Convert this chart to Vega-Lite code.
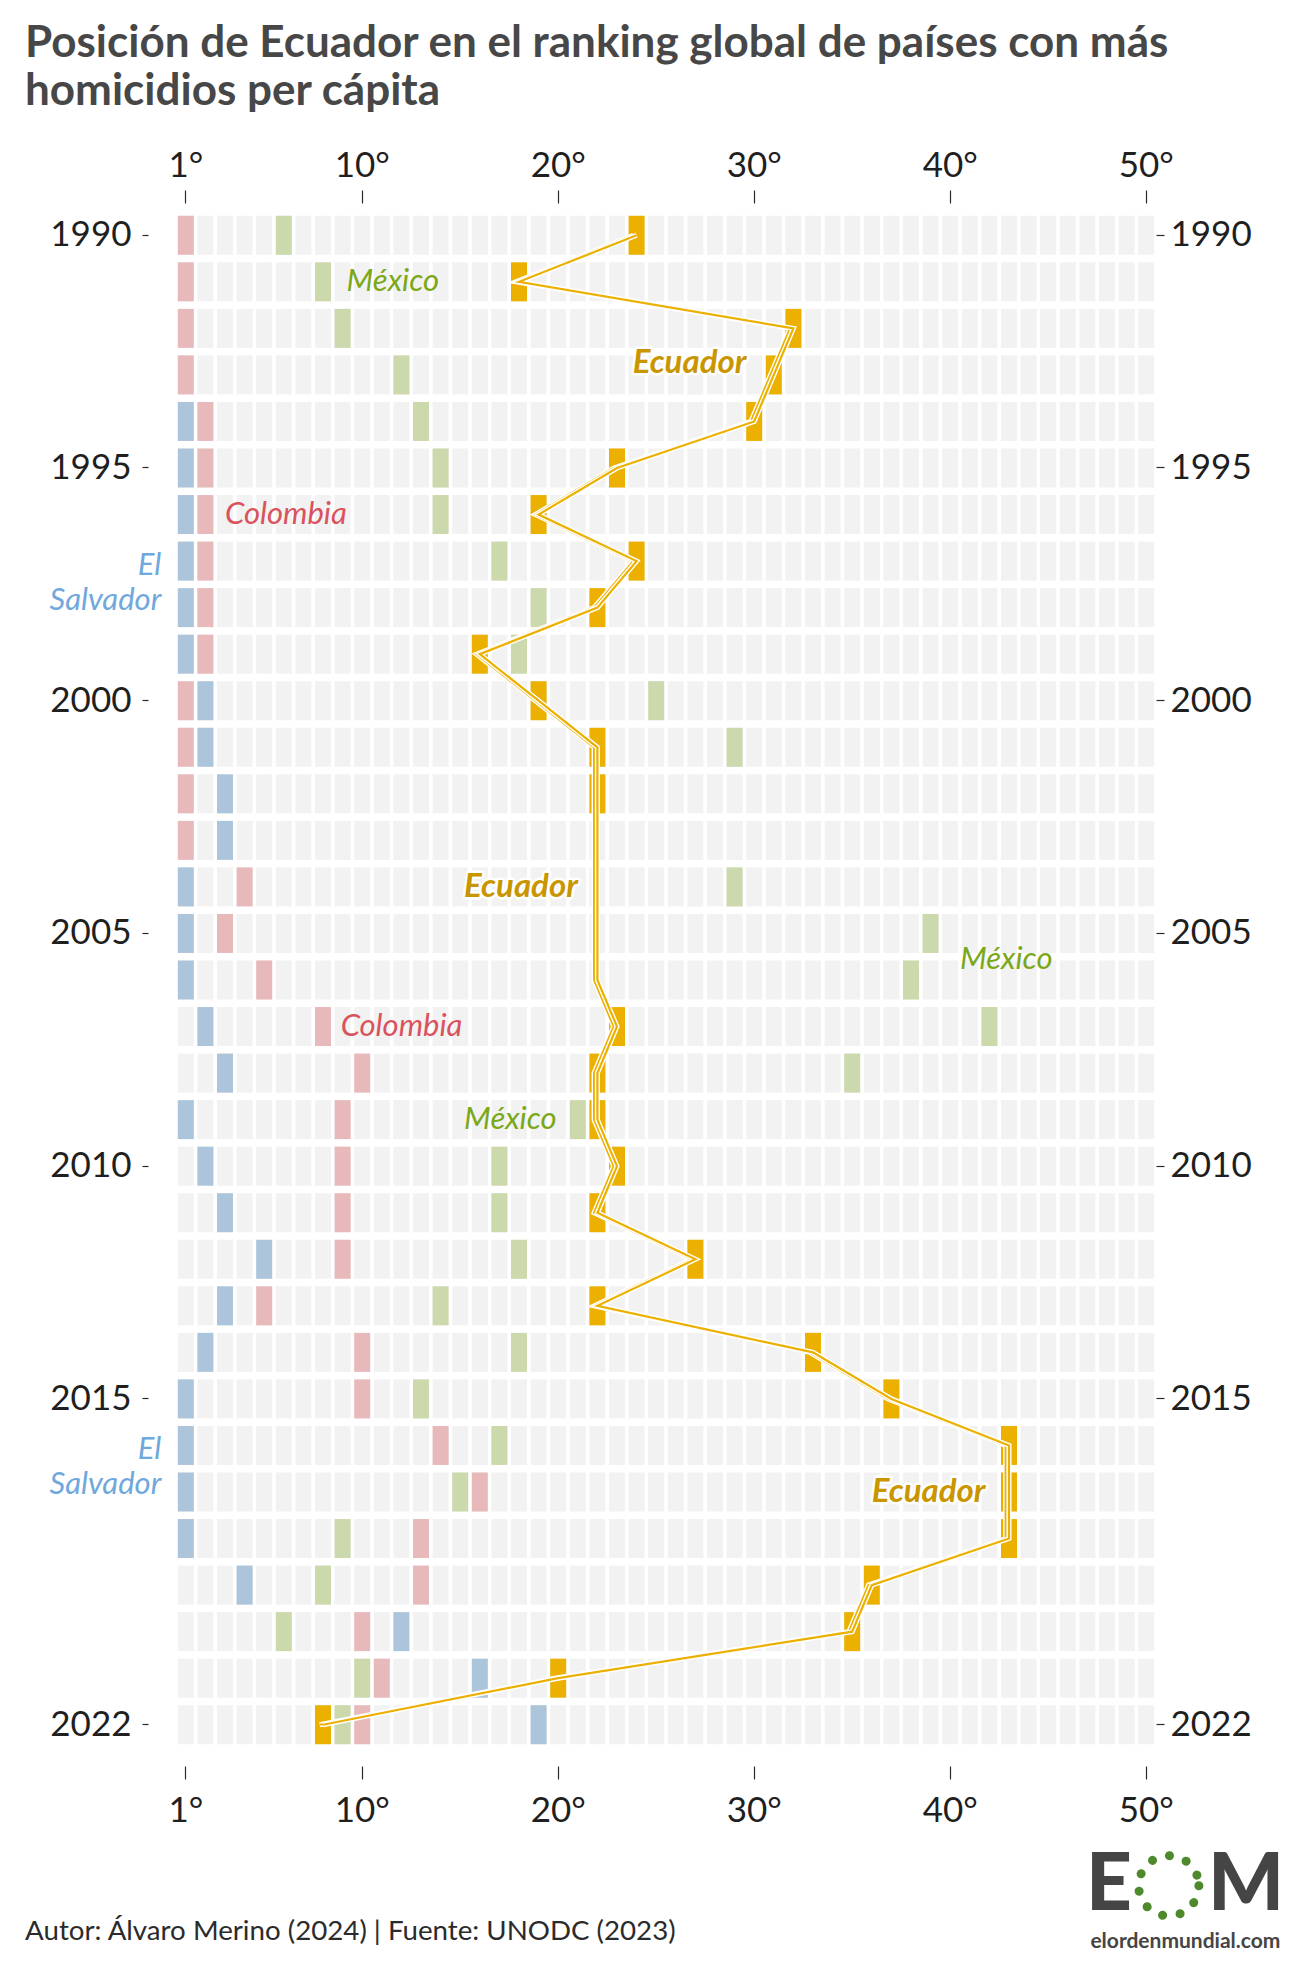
{
  "$schema": "https://vega.github.io/schema/vega-lite/v6.json",
  "width": 980,
  "height": 1536,
  "autosize": {"type": "none"},
  "padding": {"left": 176, "top": 212, "right": 145, "bottom": 214},
  "background": "white",
  "config": {
    "font": "Lato",
    "view": {"stroke": null},
    "axis": {
      "domain": false,
      "grid": false,
      "title": null,
      "labelFont": "Lato",
      "labelFontSize": 35,
      "labelColor": "#1f1f1f",
      "tickColor": "#2a2a2a",
      "tickWidth": 1.2,
      "labelAngle": 0
    }
  },
  "title": {
    "text": ["Posición de Ecuador en el ranking global de países con más", "homicidios per cápita"],
    "anchor": "start",
    "frame": "group",
    "dx": -151,
    "font": "Lato",
    "fontSize": 44,
    "fontWeight": "bold",
    "color": "#474747",
    "lineHeight": 48,
    "offset": 34
  },
  "datasets": {
    "rejilla": [
      {
        "puestos": [1,2,3,4,5,6,7,8,9,10,11,12,13,14,15,16,17,18,19,20,21,22,23,24,25,26,27,28,29,30,31,32,33,34,35,36,37,38,39,40,41,42,43,44,45,46,47,48,49,50],
        "anios": [1990,1991,1992,1993,1994,1995,1996,1997,1998,1999,2000,2001,2002,2003,2004,2005,2006,2007,2008,2009,2010,2011,2012,2013,2014,2015,2016,2017,2018,2019,2020,2021,2022]
      }
    ],
    "posiciones": [
      {"pais": "El Salvador", "anio": 1994, "puesto": 1},
      {"pais": "El Salvador", "anio": 1995, "puesto": 1},
      {"pais": "El Salvador", "anio": 1996, "puesto": 1},
      {"pais": "El Salvador", "anio": 1997, "puesto": 1},
      {"pais": "El Salvador", "anio": 1998, "puesto": 1},
      {"pais": "El Salvador", "anio": 1999, "puesto": 1},
      {"pais": "El Salvador", "anio": 2000, "puesto": 2},
      {"pais": "El Salvador", "anio": 2001, "puesto": 2},
      {"pais": "El Salvador", "anio": 2002, "puesto": 3},
      {"pais": "El Salvador", "anio": 2003, "puesto": 3},
      {"pais": "El Salvador", "anio": 2004, "puesto": 1},
      {"pais": "El Salvador", "anio": 2005, "puesto": 1},
      {"pais": "El Salvador", "anio": 2006, "puesto": 1},
      {"pais": "El Salvador", "anio": 2007, "puesto": 2},
      {"pais": "El Salvador", "anio": 2008, "puesto": 3},
      {"pais": "El Salvador", "anio": 2009, "puesto": 1},
      {"pais": "El Salvador", "anio": 2010, "puesto": 2},
      {"pais": "El Salvador", "anio": 2011, "puesto": 3},
      {"pais": "El Salvador", "anio": 2012, "puesto": 5},
      {"pais": "El Salvador", "anio": 2013, "puesto": 3},
      {"pais": "El Salvador", "anio": 2014, "puesto": 2},
      {"pais": "El Salvador", "anio": 2015, "puesto": 1},
      {"pais": "El Salvador", "anio": 2016, "puesto": 1},
      {"pais": "El Salvador", "anio": 2017, "puesto": 1},
      {"pais": "El Salvador", "anio": 2018, "puesto": 1},
      {"pais": "El Salvador", "anio": 2019, "puesto": 4},
      {"pais": "El Salvador", "anio": 2020, "puesto": 12},
      {"pais": "El Salvador", "anio": 2021, "puesto": 16},
      {"pais": "El Salvador", "anio": 2022, "puesto": 19},
      {"pais": "Colombia", "anio": 1990, "puesto": 1},
      {"pais": "Colombia", "anio": 1991, "puesto": 1},
      {"pais": "Colombia", "anio": 1992, "puesto": 1},
      {"pais": "Colombia", "anio": 1993, "puesto": 1},
      {"pais": "Colombia", "anio": 1994, "puesto": 2},
      {"pais": "Colombia", "anio": 1995, "puesto": 2},
      {"pais": "Colombia", "anio": 1996, "puesto": 2},
      {"pais": "Colombia", "anio": 1997, "puesto": 2},
      {"pais": "Colombia", "anio": 1998, "puesto": 2},
      {"pais": "Colombia", "anio": 1999, "puesto": 2},
      {"pais": "Colombia", "anio": 2000, "puesto": 1},
      {"pais": "Colombia", "anio": 2001, "puesto": 1},
      {"pais": "Colombia", "anio": 2002, "puesto": 1},
      {"pais": "Colombia", "anio": 2003, "puesto": 1},
      {"pais": "Colombia", "anio": 2004, "puesto": 4},
      {"pais": "Colombia", "anio": 2005, "puesto": 3},
      {"pais": "Colombia", "anio": 2006, "puesto": 5},
      {"pais": "Colombia", "anio": 2007, "puesto": 8},
      {"pais": "Colombia", "anio": 2008, "puesto": 10},
      {"pais": "Colombia", "anio": 2009, "puesto": 9},
      {"pais": "Colombia", "anio": 2010, "puesto": 9},
      {"pais": "Colombia", "anio": 2011, "puesto": 9},
      {"pais": "Colombia", "anio": 2012, "puesto": 9},
      {"pais": "Colombia", "anio": 2013, "puesto": 5},
      {"pais": "Colombia", "anio": 2014, "puesto": 10},
      {"pais": "Colombia", "anio": 2015, "puesto": 10},
      {"pais": "Colombia", "anio": 2016, "puesto": 14},
      {"pais": "Colombia", "anio": 2017, "puesto": 16},
      {"pais": "Colombia", "anio": 2018, "puesto": 13},
      {"pais": "Colombia", "anio": 2019, "puesto": 13},
      {"pais": "Colombia", "anio": 2020, "puesto": 10},
      {"pais": "Colombia", "anio": 2021, "puesto": 11},
      {"pais": "Colombia", "anio": 2022, "puesto": 10},
      {"pais": "México", "anio": 1990, "puesto": 6},
      {"pais": "México", "anio": 1991, "puesto": 8},
      {"pais": "México", "anio": 1992, "puesto": 9},
      {"pais": "México", "anio": 1993, "puesto": 12},
      {"pais": "México", "anio": 1994, "puesto": 13},
      {"pais": "México", "anio": 1995, "puesto": 14},
      {"pais": "México", "anio": 1996, "puesto": 14},
      {"pais": "México", "anio": 1997, "puesto": 17},
      {"pais": "México", "anio": 1998, "puesto": 19},
      {"pais": "México", "anio": 1999, "puesto": 18},
      {"pais": "México", "anio": 2000, "puesto": 25},
      {"pais": "México", "anio": 2001, "puesto": 29},
      {"pais": "México", "anio": 2004, "puesto": 29},
      {"pais": "México", "anio": 2005, "puesto": 39},
      {"pais": "México", "anio": 2006, "puesto": 38},
      {"pais": "México", "anio": 2007, "puesto": 42},
      {"pais": "México", "anio": 2008, "puesto": 35},
      {"pais": "México", "anio": 2009, "puesto": 21},
      {"pais": "México", "anio": 2010, "puesto": 17},
      {"pais": "México", "anio": 2011, "puesto": 17},
      {"pais": "México", "anio": 2012, "puesto": 18},
      {"pais": "México", "anio": 2013, "puesto": 14},
      {"pais": "México", "anio": 2014, "puesto": 18},
      {"pais": "México", "anio": 2015, "puesto": 13},
      {"pais": "México", "anio": 2016, "puesto": 17},
      {"pais": "México", "anio": 2017, "puesto": 15},
      {"pais": "México", "anio": 2018, "puesto": 9},
      {"pais": "México", "anio": 2019, "puesto": 8},
      {"pais": "México", "anio": 2020, "puesto": 6},
      {"pais": "México", "anio": 2021, "puesto": 10},
      {"pais": "México", "anio": 2022, "puesto": 9},
      {"pais": "Ecuador", "anio": 1990, "puesto": 24},
      {"pais": "Ecuador", "anio": 1991, "puesto": 18},
      {"pais": "Ecuador", "anio": 1992, "puesto": 32},
      {"pais": "Ecuador", "anio": 1993, "puesto": 31},
      {"pais": "Ecuador", "anio": 1994, "puesto": 30},
      {"pais": "Ecuador", "anio": 1995, "puesto": 23},
      {"pais": "Ecuador", "anio": 1996, "puesto": 19},
      {"pais": "Ecuador", "anio": 1997, "puesto": 24},
      {"pais": "Ecuador", "anio": 1998, "puesto": 22},
      {"pais": "Ecuador", "anio": 1999, "puesto": 16},
      {"pais": "Ecuador", "anio": 2000, "puesto": 19},
      {"pais": "Ecuador", "anio": 2001, "puesto": 22},
      {"pais": "Ecuador", "anio": 2002, "puesto": 22},
      {"pais": "Ecuador", "anio": 2007, "puesto": 23},
      {"pais": "Ecuador", "anio": 2008, "puesto": 22},
      {"pais": "Ecuador", "anio": 2009, "puesto": 22},
      {"pais": "Ecuador", "anio": 2010, "puesto": 23},
      {"pais": "Ecuador", "anio": 2011, "puesto": 22},
      {"pais": "Ecuador", "anio": 2012, "puesto": 27},
      {"pais": "Ecuador", "anio": 2013, "puesto": 22},
      {"pais": "Ecuador", "anio": 2014, "puesto": 33},
      {"pais": "Ecuador", "anio": 2015, "puesto": 37},
      {"pais": "Ecuador", "anio": 2016, "puesto": 43},
      {"pais": "Ecuador", "anio": 2017, "puesto": 43},
      {"pais": "Ecuador", "anio": 2018, "puesto": 43},
      {"pais": "Ecuador", "anio": 2019, "puesto": 36},
      {"pais": "Ecuador", "anio": 2020, "puesto": 35},
      {"pais": "Ecuador", "anio": 2021, "puesto": 20},
      {"pais": "Ecuador", "anio": 2022, "puesto": 8}
    ],
    "trayectoria": [
      {"anio": 1990, "puesto": 24},
      {"anio": 1991, "puesto": 18},
      {"anio": 1992, "puesto": 32},
      {"anio": 1993, "puesto": 31},
      {"anio": 1994, "puesto": 30},
      {"anio": 1995, "puesto": 23},
      {"anio": 1996, "puesto": 19},
      {"anio": 1997, "puesto": 24},
      {"anio": 1998, "puesto": 22},
      {"anio": 1999, "puesto": 16},
      {"anio": 2000, "puesto": 19},
      {"anio": 2001, "puesto": 22},
      {"anio": 2002, "puesto": 22},
      {"anio": 2003, "puesto": 22},
      {"anio": 2004, "puesto": 22},
      {"anio": 2005, "puesto": 22},
      {"anio": 2006, "puesto": 22},
      {"anio": 2007, "puesto": 23},
      {"anio": 2008, "puesto": 22},
      {"anio": 2009, "puesto": 22},
      {"anio": 2010, "puesto": 23},
      {"anio": 2011, "puesto": 22},
      {"anio": 2012, "puesto": 27},
      {"anio": 2013, "puesto": 22},
      {"anio": 2014, "puesto": 33},
      {"anio": 2015, "puesto": 37},
      {"anio": 2016, "puesto": 43},
      {"anio": 2017, "puesto": 43},
      {"anio": 2018, "puesto": 43},
      {"anio": 2019, "puesto": 36},
      {"anio": 2020, "puesto": 35},
      {"anio": 2021, "puesto": 20},
      {"anio": 2022, "puesto": 8}
    ],
    "notas": [
      {"tipo": "México", "texto": "México", "puesto": 9.2, "anio": 1991},
      {"tipo": "México", "texto": "México", "puesto": 40.5, "anio": 2005.58},
      {"tipo": "México", "texto": "México", "puesto": 15.2, "anio": 2009},
      {"tipo": "Colombia", "texto": "Colombia", "puesto": 3.0, "anio": 1996},
      {"tipo": "Colombia", "texto": "Colombia", "puesto": 8.9, "anio": 2007},
      {"tipo": "El Salvador", "texto": "El\nSalvador", "puesto": -0.25, "anio": 1997.1},
      {"tipo": "El Salvador", "texto": "El\nSalvador", "puesto": -0.25, "anio": 2016.1},
      {"tipo": "Ecuador", "texto": "Ecuador", "puesto": 23.8, "anio": 1992.75},
      {"tipo": "Ecuador", "texto": "Ecuador", "puesto": 15.2, "anio": 2004},
      {"tipo": "Ecuador", "texto": "Ecuador", "puesto": 36.0, "anio": 2017},
      {"tipo": "fuente", "texto": "Autor: Álvaro Merino (2024) | Fuente: UNODC (2023)", "puesto": -7.2, "anio": 2026.45},
      {"tipo": "logo", "texto": "E", "puesto": 48.1, "anio": 2025.46},
      {"tipo": "logo", "texto": "M", "puesto": 55.1, "anio": 2025.46},
      {"tipo": "anillo", "texto": "O", "puesto": 51.15, "anio": 2025.46},
      {"tipo": "web", "texto": "elordenmundial.com", "puesto": 52.0, "anio": 2026.66}
    ]
  },
  "resolve": {
    "scale": {"x": "independent", "y": "independent", "color": "independent"},
    "axis": {"x": "independent", "y": "independent"}
  },
  "layer": [
    {
      "data": {"name": "rejilla"},
      "transform": [
        {"flatten": ["puestos"], "as": ["puesto"]},
        {"flatten": ["anios"], "as": ["anio"]}
      ],
      "mark": {"type": "rect", "color": "#f2f2f2"},
      "encoding": {
        "x": {
          "field": "puesto", "type": "ordinal",
          "scale": {"type": "band", "domain": [1,2,3,4,5,6,7,8,9,10,11,12,13,14,15,16,17,18,19,20,21,22,23,24,25,26,27,28,29,30,31,32,33,34,35,36,37,38,39,40,41,42,43,44,45,46,47,48,49,50], "paddingInner": 0.1837, "paddingOuter": 0.0918},
          "axis": {"orient": "top", "values": [1,10,20,30,40,50], "labelExpr": "datum.value + '°'", "offset": 9, "tickSize": 13, "labelPadding": 7}
        },
        "y": {
          "field": "anio", "type": "ordinal",
          "scale": {"type": "band", "domain": [1990,1991,1992,1993,1994,1995,1996,1997,1998,1999,2000,2001,2002,2003,2004,2005,2006,2007,2008,2009,2010,2011,2012,2013,2014,2015,2016,2017,2018,2019,2020,2021,2022], "paddingInner": 0.162, "paddingOuter": 0.081},
          "axis": {"orient": "left", "values": [1990,1995,2000,2005,2010,2015,2022], "offset": 28, "tickSize": 6, "labelPadding": 11}
        }
      }
    },
    {
      "data": {"name": "posiciones"},
      "mark": {"type": "rect"},
      "encoding": {
        "x": {
          "field": "puesto", "type": "ordinal",
          "scale": {"type": "band", "domain": [1,2,3,4,5,6,7,8,9,10,11,12,13,14,15,16,17,18,19,20,21,22,23,24,25,26,27,28,29,30,31,32,33,34,35,36,37,38,39,40,41,42,43,44,45,46,47,48,49,50], "paddingInner": 0.1837, "paddingOuter": 0.0918},
          "axis": {"orient": "bottom", "values": [1,10,20,30,40,50], "labelExpr": "datum.value + '°'", "offset": 18, "tickSize": 13, "labelPadding": 14}
        },
        "y": {
          "field": "anio", "type": "ordinal",
          "scale": {"type": "band", "domain": [1990,1991,1992,1993,1994,1995,1996,1997,1998,1999,2000,2001,2002,2003,2004,2005,2006,2007,2008,2009,2010,2011,2012,2013,2014,2015,2016,2017,2018,2019,2020,2021,2022], "paddingInner": 0.162, "paddingOuter": 0.081},
          "axis": {"orient": "right", "values": [1990,1995,2000,2005,2010,2015,2022], "offset": 0, "tickSize": 8, "labelPadding": 6}
        },
        "color": {
          "field": "pais", "type": "nominal",
          "scale": {"domain": ["El Salvador", "Colombia", "México", "Ecuador"], "range": ["#adc5da", "#e8b9bb", "#ccd9ad", "#ecb000"]},
          "legend": null
        }
      }
    },
    {
      "data": {"name": "trayectoria"},
      "layer": [
        {"mark": {"type": "line", "color": "white", "strokeWidth": 5, "xOffset": -3.3, "strokeJoin": "miter"}},
        {"mark": {"type": "line", "color": "#ecb000", "strokeWidth": 2.2, "xOffset": -3.3, "strokeJoin": "miter"}},
        {"mark": {"type": "line", "color": "white", "strokeWidth": 5, "strokeJoin": "miter"}},
        {"mark": {"type": "line", "color": "#ecb000", "strokeWidth": 2.2, "strokeJoin": "miter"}}
      ],
      "encoding": {
        "x": {
          "field": "puesto", "type": "ordinal",
          "scale": {"type": "band", "domain": [1,2,3,4,5,6,7,8,9,10,11,12,13,14,15,16,17,18,19,20,21,22,23,24,25,26,27,28,29,30,31,32,33,34,35,36,37,38,39,40,41,42,43,44,45,46,47,48,49,50], "paddingInner": 0.1837, "paddingOuter": 0.0918},
          "axis": null
        },
        "y": {
          "field": "anio", "type": "ordinal",
          "scale": {"type": "band", "domain": [1990,1991,1992,1993,1994,1995,1996,1997,1998,1999,2000,2001,2002,2003,2004,2005,2006,2007,2008,2009,2010,2011,2012,2013,2014,2015,2016,2017,2018,2019,2020,2021,2022], "paddingInner": 0.162, "paddingOuter": 0.081},
          "axis": null
        },
        "order": {"field": "anio", "type": "quantitative"}
      }
    },
    {
      "data": {"name": "notas"},
      "encoding": {
        "x": {"field": "puesto", "type": "quantitative", "scale": {"domain": [0.5, 50.5], "zero": false, "nice": false}, "axis": null},
        "y": {"field": "anio", "type": "quantitative", "scale": {"domain": [1989.5, 2022.5], "zero": false, "nice": false, "reverse": true}, "axis": null}
      },
      "layer": [
        {
          "transform": [{"filter": "datum.tipo === 'México'"}],
          "mark": {"type": "text", "align": "left", "baseline": "middle", "font": "Lato", "fontStyle": "italic", "fontSize": 31, "color": "#7ba818"},
          "encoding": {"text": {"field": "texto"}}
        },
        {
          "transform": [{"filter": "datum.tipo === 'Colombia'"}],
          "mark": {"type": "text", "align": "left", "baseline": "middle", "font": "Lato", "fontStyle": "italic", "fontSize": 31, "color": "#d9535c"},
          "encoding": {"text": {"field": "texto"}}
        },
        {
          "transform": [{"filter": "datum.tipo === 'El Salvador'"}],
          "mark": {"type": "text", "align": "right", "baseline": "middle", "font": "Lato", "fontStyle": "italic", "fontSize": 31, "lineBreak": "\n", "lineHeight": 35, "color": "#6fa8dc"},
          "encoding": {"text": {"field": "texto"}}
        },
        {
          "transform": [{"filter": "datum.tipo === 'Ecuador'"}],
          "mark": {"type": "text", "align": "left", "baseline": "middle", "font": "Lato", "fontStyle": "italic", "fontWeight": "bold", "fontSize": 33, "color": "white", "stroke": "white", "strokeWidth": 5, "strokeJoin": "round"},
          "encoding": {"text": {"field": "texto"}}
        },
        {
          "transform": [{"filter": "datum.tipo === 'Ecuador'"}],
          "mark": {"type": "text", "align": "left", "baseline": "middle", "font": "Lato", "fontStyle": "italic", "fontWeight": "bold", "fontSize": 33, "color": "#c99600"},
          "encoding": {"text": {"field": "texto"}}
        },
        {
          "transform": [{"filter": "datum.tipo === 'fuente'"}],
          "mark": {"type": "text", "align": "left", "baseline": "middle", "font": "Lato", "fontSize": 27.7, "color": "#2b2b2b"},
          "encoding": {"text": {"field": "texto"}}
        },
        {
          "transform": [{"filter": "datum.tipo === 'logo'"}],
          "mark": {"type": "text", "align": "center", "baseline": "middle", "font": "Lato", "fontWeight": 900, "fontSize": 80, "color": "#454545"},
          "encoding": {"text": {"field": "texto"}}
        },
        {
          "transform": [{"filter": "datum.tipo === 'anillo'"}],
          "mark": {"type": "point", "shape": "circle", "filled": false, "size": 3630, "stroke": "#4e8a2c", "strokeWidth": 9, "strokeDash": [0.1, 17.7], "strokeCap": "round", "opacity": 1}
        },
        {
          "transform": [{"filter": "datum.tipo === 'web'"}],
          "mark": {"type": "text", "align": "center", "baseline": "middle", "font": "Lato", "fontWeight": "bold", "fontSize": 21, "color": "#454545"},
          "encoding": {"text": {"field": "texto"}}
        }
      ]
    }
  ]
}
